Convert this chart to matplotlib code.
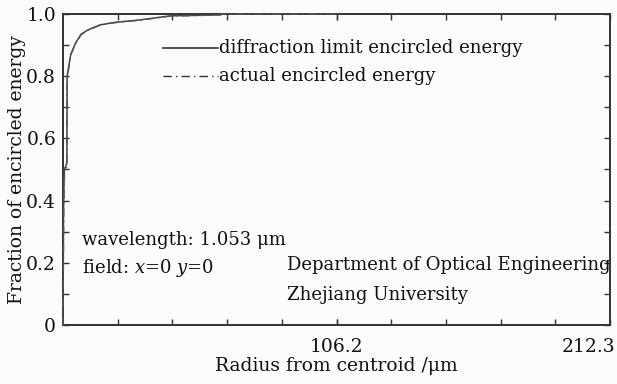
import numpy as np
import matplotlib
matplotlib.use("Agg")
import matplotlib.pyplot as plt
from matplotlib.ticker import FixedLocator, NullFormatter
from matplotlib.transforms import ScaledTranslation

plt.rcParams['font.family'] = ['DejaVu Serif']
plt.rcParams['mathtext.fontset'] = 'dejavuserif'

# radius (um) vs fraction of encircled energy
radius_diff = [0.0, 0.2, 0.5, 1.5, 1.6, 3.0, 4.9, 7.0, 9.7, 14.4, 20.0, 29.9, 41.5, 60.9, 62.0, 107.0]
energy_diff = [0.0, 0.37, 0.50, 0.52, 0.80, 0.87, 0.907, 0.935, 0.949, 0.965, 0.973, 0.981, 0.994, 0.997, 1.0, 1.0]

radius_act = [0.0, 0.3, 0.6, 1.5, 1.6, 3.0, 4.9, 7.0, 9.7, 14.4, 20.0, 29.9, 41.5, 60.9, 62.0, 107.0]
energy_act = [0.0, 0.37, 0.49, 0.51, 0.79, 0.868, 0.905, 0.933, 0.948, 0.964, 0.972, 0.980, 0.993, 0.997, 1.0, 1.0]

x_max = 212.3
x_ticklabels = {106.2: "106.2", 212.3: "212.3"}
y_ticklabels = ["0", "0.2", "0.4", "0.6", "0.8", "1.0"]

fig = plt.figure(figsize=(6.17, 3.84), dpi=100)
fig.patch.set_facecolor('#fbfbfb')
ax = fig.add_axes([63/617, 59/384, 547/617, 311/384])
ax.set_facecolor('#fbfbfb')

ax.plot(radius_diff, energy_diff, color='#444444', lw=1.1, clip_on=False, zorder=3)
ax.plot(radius_act, energy_act, color='#555555', lw=1.0, linestyle=(0, (6, 3, 1, 3)),
        clip_on=False, zorder=3)

ax.set_xlim(0, x_max)
ax.set_ylim(0, 1.0)

# ticks every 1/10 of the range, labels only at the middle and the end
ax.xaxis.set_major_locator(FixedLocator(list(x_ticklabels.keys())))
ax.set_xticklabels(list(x_ticklabels.values()))
ax.xaxis.set_minor_locator(FixedLocator([x_max * i / 10 for i in range(1, 10)]))
ax.set_yticks(np.arange(0, 1.01, 0.2))
ax.set_yticklabels(y_ticklabels)
ax.yaxis.set_minor_locator(FixedLocator(np.arange(0.1, 1.0, 0.2)))
ax.xaxis.set_minor_formatter(NullFormatter())

ax.tick_params(which='both', direction='in', top=True, right=True, length=4,
               width=1.0, color='#333333', labelsize=13.5, labelcolor='#111111')
ax.tick_params(axis='x', pad=9)
ax.tick_params(axis='y', pad=5)
for s in ax.spines.values():
    s.set_linewidth(1.4)
    s.set_color('#333333')

# last x label sits inside the figure, right-aligned a bit past the tick
last = ax.get_xticklabels()[-1]
last.set_horizontalalignment('right')
last.set_transform(last.get_transform() + ScaledTranslation(5/100, 0, fig.dpi_scale_trans))

ax.set_xlabel('Radius from centroid /\u03bcm', fontsize=13.5, color='#111111', labelpad=1)
ax.set_ylabel('Fraction of encircled energy', fontsize=13.5, color='#111111', labelpad=0)

# legend drawn by hand like the original plot
def to_ax(px, py):
    return ((px - 63) / 547, (325 - py) / 311)

lx0, _ = to_ax(163, 0)
lx1, _ = to_ax(218, 0)
_, ly1 = to_ax(0, 48)
_, ly2 = to_ax(0, 76)
ax.plot([lx0, lx1], [ly1, ly1], transform=ax.transAxes, color='#333333', lw=1.2)
ax.plot([lx0, lx1], [ly2, ly2], transform=ax.transAxes, color='#333333', lw=1.0,
        linestyle=(0, (6, 3, 1, 3)))
kw = dict(transform=ax.transAxes, fontsize=13, color='#111111', va='center', ha='left')
ax.text(lx1 + 0.002, ly1, 'diffraction limit encircled energy', **kw)
ax.text(lx1 + 0.002, ly2, 'actual encircled energy', **kw)

tx, ty = to_ax(82, 240)
ax.text(tx, ty, 'wavelength: 1.053 \u03bcm', **kw)
tx, ty = to_ax(82, 268)
ax.text(tx, ty, 'field: $x$=0 $y$=0', **kw)
tx, ty = to_ax(287, 265)
ax.text(tx, ty, 'Department of Optical Engineering', **kw)
tx, ty = to_ax(287, 295)
ax.text(tx, ty, 'Zhejiang University', **kw)

fig.savefig('out.png', dpi=100, facecolor=fig.get_facecolor())
